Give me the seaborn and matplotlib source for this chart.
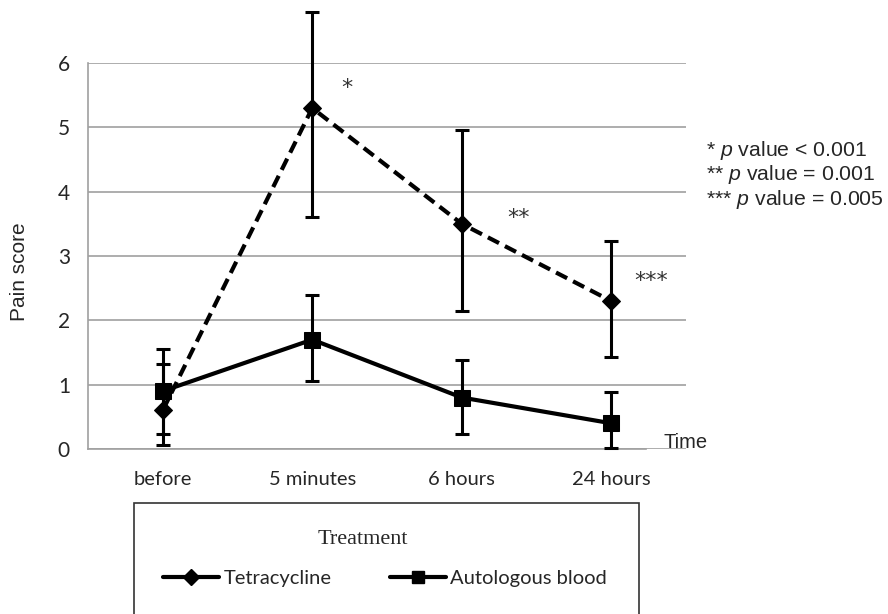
import pandas as pd
import numpy as np
import matplotlib
matplotlib.use('Agg')
import matplotlib.pyplot as plt
from matplotlib.lines import Line2D
from matplotlib.patches import Rectangle
import seaborn as sns

# 数据
times = ['before', '5 minutes', '6 hours', '24 hours']
tetra_mean = [0.6, 5.3, 3.5, 2.3]
tetra_hi = [1.32, 6.80, 4.96, 3.23]
tetra_lo = [0.06, 3.60, 2.14, 1.43]
auto_mean = [0.9, 1.7, 0.8, 0.4]
auto_hi = [1.56, 2.40, 1.39, 0.88]
auto_lo = [0.24, 1.06, 0.24, 0.01]
stars = ['*', '**', '***']
star_x = [1.23, 2.38, 3.27]
star_y = [5.61, 3.59, 2.61]
p_notes = ['* $\\it{p}$ value < 0.001', '** $\\it{p}$ value = 0.001', '*** $\\it{p}$ value = 0.005']

df = pd.DataFrame({
    'time': times * 2,
    'score': tetra_mean + auto_mean,
    'treatment': ['Tetracycline'] * 4 + ['Autologous blood'] * 4,
})

sns.set_style('white')
plt.rcParams['font.family'] = ['Lato', 'DejaVu Sans']
plt.rcParams['mathtext.fontset'] = 'custom'
plt.rcParams['mathtext.rm'] = 'Liberation Sans'
plt.rcParams['mathtext.it'] = 'Liberation Sans:italic'

fig = plt.figure(figsize=(8.88, 6.14), dpi=100)
ax = fig.add_axes([88 / 888, 1 - 449 / 614, 598 / 888, 386 / 614])

sns.lineplot(data=df, x='time', y='score', hue='treatment', style='treatment',
             palette={'Tetracycline': 'black', 'Autologous blood': 'black'},
             markers={'Tetracycline': 'D', 'Autologous blood': 's'},
             dashes={'Tetracycline': (3.0, 1.6), 'Autologous blood': ''},
             linewidth=3, markersize=9.5, markeredgecolor='black',
             legend=False, ax=ax, zorder=3)
ax.lines[1].set_markersize(11)

tm = np.array(tetra_mean)
am = np.array(auto_mean)
ax.errorbar(times, tm, yerr=[tm - np.array(tetra_lo), np.array(tetra_hi) - tm],
            fmt='none', ecolor='black', elinewidth=2.2, capsize=5, capthick=2.2,
            clip_on=False, zorder=4)
ax.errorbar(times, am, yerr=[am - np.array(auto_lo), np.array(auto_hi) - am],
            fmt='none', ecolor='black', elinewidth=2.2, capsize=5, capthick=2.2,
            clip_on=False, zorder=4)

ax.set_xlim(-0.5, 3.5)
ax.set_ylim(0, 6)
ax.set_yticks(range(0, 7))
ax.yaxis.grid(True, color='#a0a0a0', linewidth=1.2)
ax.set_axisbelow(True)
for s in ['top', 'right']:
    ax.spines[s].set_visible(False)
ax.spines['left'].set_color('#a0a0a0')
ax.spines['bottom'].set_color('#a0a0a0')
ax.spines['left'].set_linewidth(1.2)
ax.spines['bottom'].set_linewidth(1.2)
ax.spines['bottom'].set_bounds(-0.5, 3.23)
ax.set_xticks([-0.5, 0.5, 1.5, 2.5], minor=True)
ax.tick_params(axis='x', which='major', length=0, pad=16, labelsize=14.5)
ax.tick_params(axis='x', which='minor', length=6, width=1.2, color='#a0a0a0', direction='out')
ax.tick_params(axis='y', length=6, width=1.2, color='#a0a0a0', labelsize=15, pad=7)
ax.set_xlabel('')
ax.set_ylabel('')

for s, x, y in zip(stars, star_x, star_y):
    ax.text(x, y, s, fontsize=16, color='#333333', ha='center', va='center',
            family='DejaVu Sans')

fig.text(20 / 888, 1 - 272 / 614, 'Pain score', rotation=90, ha='center', va='center',
         fontsize=15, family='Liberation Sans')
fig.text(663 / 888, 1 - 442 / 614, 'Time', ha='left', va='center',
         fontsize=14.5, family='Liberation Sans')
for i, t in enumerate(p_notes):
    fig.text(706 / 888, 1 - (150 + 25 * i) / 614, t, ha='left', va='center',
             fontsize=15.3, family='Liberation Sans')

# 图例框
fig.patches.append(Rectangle((134 / 888, 1 - 640 / 614), 505 / 888, 137 / 614,
                             transform=fig.transFigure, fill=False,
                             edgecolor='#333333', linewidth=1.2))
fig.text(363 / 888, 1 - 540 / 614, 'Treatment', ha='center', va='center',
         fontsize=16, family='Liberation Serif')
handles = [Line2D([], [], color='black', linewidth=3, marker='D', markersize=8),
           Line2D([], [], color='black', linewidth=3, marker='s', markersize=9)]
fig.legend(handles, ['Tetracycline', 'Autologous blood'], ncol=2, frameon=False,
           loc='center', bbox_to_anchor=(385 / 888, 1 - 578 / 614),
           fontsize=14.5, handlelength=2.8, handletextpad=0.2, columnspacing=2.9)

plt.savefig('out.png', dpi=100)
